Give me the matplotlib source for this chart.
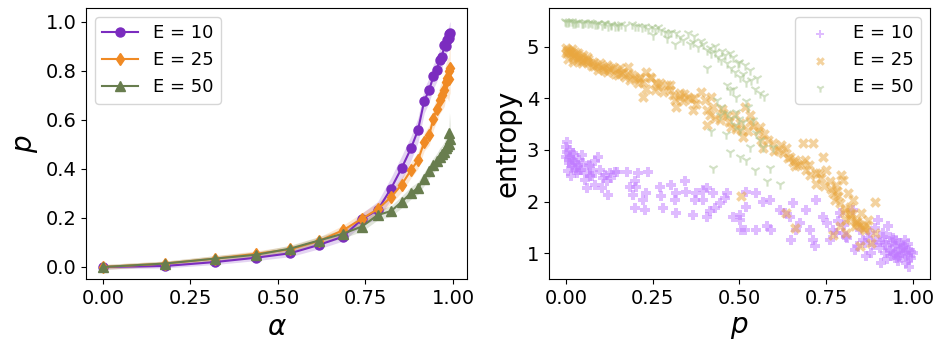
import matplotlib
matplotlib.use("Agg")
import matplotlib.pyplot as plt
import numpy as np

# ---------------- left panel data ----------------
alpha_vals = [0.0, 0.176, 0.319, 0.438, 0.535, 0.617, 0.686, 0.740, 0.785, 0.823,
              0.853, 0.880, 0.900, 0.918, 0.932, 0.944, 0.954, 0.962, 0.969, 0.975,
              0.979, 0.984, 0.988, 0.990, 0.992]
p_e10 = [0.0, 0.004, 0.020, 0.038, 0.056, 0.090, 0.124, 0.195, 0.232, 0.320,
         0.402, 0.484, 0.558, 0.678, 0.722, 0.777, 0.805, 0.845, 0.856, 0.905,
         0.903, 0.925, 0.935, 0.950, 0.956]
p_e25 = [0.0, 0.014, 0.034, 0.054, 0.072, 0.106, 0.150, 0.197, 0.236, 0.285,
         0.335, 0.395, 0.435, 0.510, 0.537, 0.605, 0.646, 0.680, 0.700, 0.720,
         0.755, 0.770, 0.765, 0.800, 0.810]
p_e50 = [0.0, 0.014, 0.034, 0.050, 0.075, 0.108, 0.136, 0.165, 0.212, 0.228,
         0.265, 0.302, 0.322, 0.360, 0.390, 0.415, 0.432, 0.450, 0.460, 0.470,
         0.485, 0.492, 0.500, 0.545, 0.520]
err_e10 = [0.008, 0.008, 0.010, 0.012, 0.014, 0.016, 0.018, 0.025, 0.035, 0.045,
           0.050, 0.050, 0.050, 0.050, 0.050, 0.050, 0.048, 0.046, 0.045, 0.045,
           0.045, 0.045, 0.045, 0.045, 0.045]
err_e25 = [0.010, 0.010, 0.012, 0.012, 0.014, 0.016, 0.020, 0.024, 0.026, 0.028,
           0.030, 0.032, 0.034, 0.036, 0.040, 0.045, 0.050, 0.055, 0.060, 0.065,
           0.070, 0.080, 0.090, 0.100, 0.100]
err_e50 = [0.010, 0.010, 0.012, 0.012, 0.014, 0.016, 0.018, 0.020, 0.020, 0.022,
           0.024, 0.025, 0.025, 0.028, 0.028, 0.030, 0.032, 0.034, 0.036, 0.040,
           0.040, 0.045, 0.055, 0.085, 0.065]

# ---------------- right panel data ----------------
s10_p = [0.002, 0.0, 0.004, 0.0, 0.012, 0.021, 0.01, 0.026, 0.016, 0.036, 0.04, 0.05,
         0.031, 0.06, 0.069, 0.079, 0.055, 0.093, 0.098, 0.112, 0.127, 0.141, 0.117,
         0.131, 0.083, 0.06, 0.103, 0.122, 0.146, 0.175, 0.184, 0.199, 0.208, 0.237,
         0.203, 0.194, 0.232, 0.223, 0.199, 0.227, 0.27, 0.275, 0.28, 0.304, 0.314,
         0.318, 0.318, 0.343, 0.347, 0.371, 0.376, 0.366, 0.395, 0.405, 0.395, 0.424,
         0.405, 0.415, 0.429, 0.443, 0.458, 0.463, 0.482, 0.501, 0.501, 0.505, 0.52,
         0.52, 0.549, 0.515, 0.549, 0.568, 0.578, 0.587, 0.592, 0.616, 0.63, 0.645,
         0.654, 0.649, 0.664, 0.674, 0.693, 0.702, 0.712, 0.717, 0.722, 0.741, 0.751,
         0.76, 0.77, 0.779, 0.789, 0.798, 0.808, 0.827, 0.832, 0.84, 0.846, 0.861,
         0.866, 0.875, 0.88, 0.885, 0.894, 0.899, 0.904, 0.909, 0.914, 0.918, 0.923,
         0.928, 0.933, 0.937, 0.942, 0.947, 0.952, 0.957, 0.962, 0.966, 0.971, 0.976,
         0.981, 0.986, 0.99, 0.995, 1.0, 0.99, 0.976, 0.952, 0.933, 0.947,
         0.02, 0.03, 0.045, 0.07, 0.085, 0.005, 0.015,
         0.008, 0.018, 0.028, 0.038, 0.012, 0.024, 0.044, 0.065, 0.075, 0.108,
         0.92, 0.935, 0.95, 0.96, 0.97, 0.98, 0.925, 0.945, 0.965, 0.985, 0.905,
         0.955, 0.975, 0.995, 0.915, 0.94, 0.96, 0.985, 0.87, 0.855, 0.89, 0.8,
         0.81, 0.785]
s10_h = [3.16, 3.06, 2.97, 2.87, 2.87, 2.94, 2.74, 2.77, 2.68, 2.71, 2.61, 2.74,
         2.55, 2.55, 2.68, 2.58, 2.42, 2.87, 2.61, 2.52, 2.55, 2.58, 2.39, 2.45,
         2.32, 2.26, 2.26, 2.13, 2.58, 2.58, 2.29, 2.39, 2.55, 2.58, 2.29, 2.13,
         2.16, 2.03, 1.87, 1.84, 2.29, 2.10, 1.87, 2.32, 2.03, 2.16, 1.77, 2.39,
         2.19, 2.03, 2.16, 1.74, 2.23, 2.26, 2.03, 2.16, 1.71, 1.81, 1.87, 1.97,
         2.06, 2.16, 1.71, 1.74, 1.65, 1.45, 2.19, 1.90, 2.16, 1.45, 1.45, 2.0,
         1.52, 2.03, 1.45, 1.84, 1.77, 1.71, 1.97, 1.26, 1.45, 1.58, 1.84, 1.45,
         1.26, 1.13, 2.03, 1.71, 1.58, 1.26, 1.45, 1.39, 1.77, 1.39, 1.32, 1.84,
         1.06, 1.13, 1.45, 1.19, 0.94, 1.39, 1.0, 1.16, 1.26, 1.65, 1.10, 0.81,
         1.32, 1.0, 1.16, 1.52, 1.06, 0.94, 1.29, 1.13, 1.03, 0.84, 1.19, 1.0,
         1.10, 1.26, 0.81, 0.94, 1.06, 0.90, 1.0, 0.74, 1.0, 1.26, 1.32, 0.97,
         2.80, 2.65, 2.90, 2.50, 2.78, 2.60, 2.50,
         2.82, 2.72, 2.62, 2.80, 3.0, 2.90, 2.62, 2.70, 2.50, 2.45,
         1.20, 1.05, 1.18, 0.92, 1.12, 1.05, 0.88, 0.98, 1.08, 0.86, 1.22,
         0.90, 1.15, 1.02, 1.40, 1.22, 0.95, 1.18, 1.30, 1.25, 1.48, 1.55,
         1.30, 1.62]

s25_p = [0.0, 0.007, 0.016, 0.0, 0.012, 0.026, 0.036, 0.021, 0.04, 0.05, 0.007,
         0.031, 0.055, 0.064, 0.069, 0.079, 0.045, 0.088, 0.098, 0.107, 0.117,
         0.127, 0.136, 0.146, 0.155, 0.165, 0.179, 0.093, 0.117, 0.151, 0.17,
         0.184, 0.199, 0.213, 0.208, 0.223, 0.232, 0.242, 0.223, 0.232, 0.256,
         0.266, 0.28, 0.29, 0.3, 0.309, 0.314, 0.318, 0.328, 0.338, 0.352, 0.367,
         0.376, 0.39, 0.4, 0.405, 0.415, 0.405, 0.419, 0.424, 0.443, 0.453, 0.463,
         0.477, 0.487, 0.501, 0.505, 0.51, 0.515, 0.53, 0.525, 0.539, 0.554, 0.559,
         0.563, 0.568, 0.583, 0.597, 0.611, 0.626, 0.635, 0.645, 0.654, 0.659,
         0.669, 0.683, 0.688, 0.693, 0.712, 0.702, 0.722, 0.736, 0.741, 0.75,
         0.76, 0.77, 0.774, 0.779, 0.789, 0.793, 0.798, 0.808, 0.813, 0.818,
         0.827, 0.832, 0.84, 0.851, 0.861, 0.87, 0.89, 0.88, 0.659, 0.635, 0.505,
         0.846, 0.77, 0.89, 0.808, 0.789, 0.01, 0.03, 0.05, 0.06, 0.08, 0.11,
         0.14, 0.19, 0.26, 0.33, 0.37, 0.45, 0.57, 0.62, 0.68, 0.73, 0.78, 0.82,
         0.004, 0.014, 0.024, 0.034, 0.044, 0.02, 0.06, 0.075, 0.1, 0.125, 0.16,
         0.18, 0.21, 0.245, 0.27, 0.3, 0.34, 0.36, 0.43, 0.47, 0.49, 0.53, 0.6,
         0.64, 0.66, 0.7, 0.72, 0.745, 0.765, 0.785, 0.8, 0.825, 0.835, 0.845,
         0.855, 0.865, 0.82, 0.805, 0.84, 0.86]
s25_h = [4.97, 4.94, 4.95, 4.87, 4.87, 4.90, 4.87, 4.81, 4.81, 4.84, 4.77, 4.74,
         4.74, 4.77, 4.68, 4.71, 4.68, 4.65, 4.68, 4.61, 4.65, 4.58, 4.61, 4.55,
         4.58, 4.52, 4.61, 4.55, 4.52, 4.45, 4.42, 4.35, 4.39, 4.42, 4.29, 4.32,
         4.52, 4.42, 4.03, 4.19, 4.16, 4.23, 4.13, 4.26, 4.16, 4.06, 3.97, 3.84,
         4.03, 3.94, 4.03, 3.77, 3.90, 4.13, 3.97, 3.77, 3.68, 3.48, 4.03, 3.84,
         3.58, 3.71, 3.65, 3.45, 3.68, 3.52, 3.39, 3.26, 3.84, 3.68, 3.36, 3.48,
         3.36, 3.45, 3.19, 3.03, 3.19, 3.13, 3.0, 2.94, 3.03, 2.87, 2.77, 2.68,
         2.71, 3.13, 2.81, 2.61, 3.13, 2.52, 2.35, 2.45, 2.87, 2.61, 2.39, 2.16,
         2.03, 2.32, 1.97, 2.52, 2.42, 1.65, 2.16, 1.90, 2.03, 1.52, 1.58, 1.77,
         1.45, 1.65, 2.0, 1.19, 1.48, 1.77, 2.10, 1.13, 1.35, 1.39, 1.39, 1.52,
         4.92, 4.84, 4.72, 4.80, 4.62, 4.55, 4.48, 4.45, 4.30, 4.10, 4.00, 3.80,
         3.30, 3.10, 2.75, 2.55, 2.20, 1.75,
         4.92, 4.90, 4.84, 4.78, 4.74, 4.70, 4.70, 4.62, 4.58, 4.55, 4.50,
         4.48, 4.38, 4.40, 4.30, 4.25, 4.08, 3.98, 3.62, 3.55, 3.40, 3.55, 2.98,
         2.85, 2.80, 2.70, 2.55, 2.30, 2.25, 2.10, 1.80, 1.75, 1.60, 1.55,
         1.50, 1.55, 1.68, 1.85, 1.62, 1.48]

s50_p = [-0.003, 0.007, 0.016, 0.026, 0.036, 0.045, 0.055, 0.064, 0.074, 0.083,
         0.093, 0.103, 0.112, 0.122, 0.131, 0.141, 0.151, 0.16, 0.17, 0.189,
         0.199, 0.208, 0.218, 0.227, 0.237, 0.247, 0.256, 0.266, 0.275, 0.251,
         0.285, 0.295, 0.304, 0.29, 0.318, 0.328, 0.314, 0.338, 0.352, 0.357,
         0.367, 0.381, 0.395, 0.405, 0.415, 0.419, 0.405, 0.429, 0.438, 0.448,
         0.458, 0.463, 0.472, 0.477, 0.487, 0.496, 0.501, 0.51, 0.515, 0.52,
         0.463, 0.472, 0.482, 0.491, 0.534, 0.544, 0.559, 0.434, 0.448, 0.463,
         0.477, 0.487, 0.501, 0.419, 0.491, 0.524, 0.539, 0.549, 0.559, 0.53,
         0.472, 0.501, 0.52, 0.544, 0.578, 0.424, 0.587, 0.568, 0.597, 0.616,
         0.51, 0.443, 0.0, 0.01, 0.02, 0.03, 0.05, 0.07, 0.09, 0.11, 0.13, 0.15,
         0.37, 0.39, 0.43, 0.45, 0.48, 0.5, 0.53, 0.55, 0.57, 0.52, 0.5, 0.46]
s50_h = [5.50, 5.48, 5.50, 5.46, 5.48, 5.45, 5.48, 5.45, 5.46, 5.44, 5.46, 5.43,
         5.45, 5.41, 5.44, 5.40, 5.41, 5.44, 5.40, 5.44, 5.40, 5.41, 5.39, 5.41,
         5.35, 5.39, 5.35, 5.39, 5.32, 5.23, 5.29, 5.26, 5.29, 5.16, 5.26, 5.19,
         5.06, 5.13, 5.26, 5.06, 5.10, 5.0, 5.06, 4.94, 4.97, 4.87, 4.58, 4.90,
         4.81, 4.74, 4.84, 4.68, 4.87, 4.58, 4.52, 4.68, 4.42, 4.48, 4.65, 4.32,
         4.26, 4.16, 4.19, 4.03, 4.35, 4.19, 4.10, 3.97, 3.84, 3.71, 3.61, 3.48,
         3.39, 3.36, 3.74, 3.84, 3.58, 3.32, 3.19, 3.06, 2.97, 2.87, 2.81, 2.61,
         2.39, 2.65, 2.65, 3.06, 3.06, 2.35, 3.55, 3.68, 5.47, 5.49, 5.46, 5.47,
         5.45, 5.47, 5.44, 5.46, 5.42, 5.43,
         5.20, 5.12, 5.02, 4.92, 4.80, 4.70, 4.55, 4.40, 4.05, 3.95, 3.60, 3.30]

labels = ["E = 10", "E = 25", "E = 50"]
line_colors = ["#7B2CBF", "#F08A24", "#687D4E"]
scatter_colors = ["#C17BFF", "#E9A73F", "#A6C48C"]

plt.rcParams['font.family'] = ['DejaVu Sans']
fig = plt.figure(figsize=(9.47, 3.53), dpi=100)
ax1 = fig.add_axes([0.0908, 0.2096, 0.4023, 0.7677])
ax2 = fig.add_axes([0.5797, 0.2096, 0.4023, 0.7677])

a = np.array(alpha_vals)
for ys, es, mk, col, lab in zip([p_e10, p_e25, p_e50], [err_e10, err_e25, err_e50],
                                ["o", "d", "^"], line_colors, labels):
    ys = np.array(ys); es = np.array(es)
    ax1.fill_between(a, ys - es, ys + es, color=col, alpha=0.2, linewidth=0)
    ax1.plot(a, ys, marker=mk, color=col, label=lab, markersize=6.5, linewidth=1.5)

ax1.set_xlim(-0.0486, 1.04)
ax1.set_ylim(-0.049, 1.056)
ax1.set_xticks([0.0, 0.25, 0.5, 0.75, 1.0])
ax1.set_yticks([0.0, 0.2, 0.4, 0.6, 0.8, 1.0])
ax1.tick_params(labelsize=14)
ax1.set_xlabel(r"$\alpha$", fontsize=20)
ax1.set_ylabel(r"$p$", fontsize=20)
ax1.legend(loc="upper left", fontsize=13)

for px, hy, mk, col, lab, sz in zip([s10_p, s25_p, s50_p], [s10_h, s25_h, s50_h],
                                    ["P", "X", "1"], scatter_colors, labels, [55, 60, 55]):
    ax2.scatter(px, hy, marker=mk, color=col, alpha=0.5, s=sz, label=lab,
                linewidths=1.5 if mk == "1" else 0)

ax2.set_xlim(-0.049, 1.049)
ax2.set_ylim(0.5, 5.75)
ax2.set_xticks([0.0, 0.25, 0.5, 0.75, 1.0])
ax2.set_yticks([1, 2, 3, 4, 5])
ax2.tick_params(labelsize=14)
ax2.set_xlabel(r"$p$", fontsize=20)
ax2.set_ylabel("entropy", fontsize=20)
ax2.legend(loc="upper right", fontsize=13, markerscale=0.8)

fig.savefig("out.png", dpi=100)
